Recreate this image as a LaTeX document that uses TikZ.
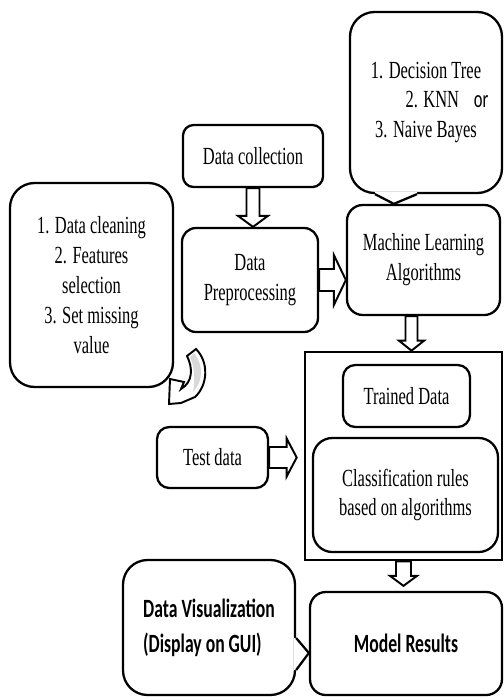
\documentclass[tikz,border=0pt]{standalone}
\usepackage{fontspec}
\setmainfont{Liberation Serif}[FakeStretch=0.67]
\newfontfamily\calfont{Carlito}[FakeStretch=0.67]
\usetikzlibrary{calc}

\tikzset{
  box/.style={draw, line width=1.3pt, rounded corners=#1, align=center,
    inner sep=2pt, font=\fontsize{14}{17}\selectfont},
  box/.default=7pt,
  boxsize/.style 2 args={minimum width=#1*0.02cm, minimum height=#2*0.02cm},
  guibox/.style={box=#1, font=\calfont\bfseries\fontsize{15}{20}\selectfont},
  fatarrow/.style={draw, line width=1.1pt, fill=white, line join=miter},
  pointer/.style={draw, line width=1.3pt, line join=miter}
}

% hollow block arrows (sizes in px: shaft half width, head half width, head length)
\newcommand{\fatdown}[5]{%
  \draw[fatarrow] let \p1=(#1), \p2=(#2) in
    (\x1-#3*0.02cm,\y1) -- (\x1-#3*0.02cm,\y2+#5*0.02cm) -- (\x1-#4*0.02cm,\y2+#5*0.02cm)
    -- (\x1,\y2) -- (\x1+#4*0.02cm,\y2+#5*0.02cm) -- (\x1+#3*0.02cm,\y2+#5*0.02cm)
    -- (\x1+#3*0.02cm,\y1) -- cycle;}
\newcommand{\fatright}[5]{%
  \draw[fatarrow] let \p1=(#1), \p2=(#2) in
    (\x1,\y1+#3*0.02cm) -- (\x2-#5*0.02cm,\y1+#3*0.02cm) -- (\x2-#5*0.02cm,\y1+#4*0.02cm)
    -- (\x2,\y1) -- (\x2-#5*0.02cm,\y1-#4*0.02cm) -- (\x2-#5*0.02cm,\y1-#3*0.02cm)
    -- (\x1,\y1-#3*0.02cm) -- cycle;}

\begin{document}
\begin{tikzpicture}[x=0.02cm, y=-0.02cm]
  \useasboundingbox (0,0) rectangle (504,697);

  % Boxes of the left part
  \node[box=14pt, boxsize={163}{204}] (clean) at (91.5,285)
    {1. Data cleaning\\2. Features\\selection\\3. Set missing\\value};
  \node[box=6pt, boxsize={140}{62}] (collect) at (253,156) {Data collection};
  \node[box=8pt, boxsize={136}{104}] (prep) at (250,280) {Data\\Preprocessing};
  \node[box, boxsize={111}{61}] (test) at (212.5,457.5) {Test data};

  % Algorithms with their callout
  \node[box=9pt, boxsize={153}{110}] (ml) at (423.5,260) {Machine Learning\\Algorithms};
  \node[box=14pt, boxsize={152}{181}] (algo) at (426,102.5)
    {1. Decision Tree\\\hspace*{1.7em}2. KNN\hspace{0.6em}{\calfont or}\\3. Naive Bayes};
  \coordinate (algotip) at ($(ml.north west)+(48,0)$);
  \fill[white] ($(algo.south)+(-51,-2)$) -- ($(algo.south)+(-51,0)$) -- (algotip)
    -- ($(algo.south)+(-9,0)$) -- ($(algo.south)+(-9,-2)$) -- cycle;
  \draw[pointer] ($(algo.south)+(-51,0)$) -- (algotip) -- ($(algo.south)+(-9,0)$);

  % Frame with the trained model
  \node[draw, line width=1.5pt, boxsize={197}{208}] (frame) at (403.5,456) {};
  \node[box, boxsize={127}{62}] (trained) at (406.5,396) {Trained Data};
  \node[box=11pt, boxsize={185}{114}] (rules) at (405.5,495)
    {Classification rules\\based on algorithms};

  % Results with their callout
  \node[guibox=9pt, boxsize={192}{103}] (result) at (406,643.5) {Model Results};
  \node[guibox=14pt, boxsize={172}{135}, align=left] (gui) at (209,627.5)
    {Data Visualization\\(Display on GUI)};
  \coordinate (guitip) at ($(result.west)+(0,9.5)$);
  \fill[white] ($(gui.east)+(-2,10.5)$) -- ($(gui.east)+(0,10.5)$) -- (guitip)
    -- ($(gui.east)+(0,42.5)$) -- ($(gui.east)+(-2,42.5)$) -- cycle;
  \draw[pointer] ($(gui.east)+(0,10.5)$) -- (guitip) -- ($(gui.east)+(0,42.5)$);

  % Block arrows
  \fatdown{collect.south}{prep.north}{6.5}{15}{11}
  \fatright{prep.east}{prep.east -| ml.west}{11}{25}{12}
  \coordinate (mlout) at ($(ml.south)+(-12,0)$);
  \fatdown{mlout}{mlout |- frame.north}{6}{12.5}{10}
  \coordinate (testin) at ($(frame.west)+(-7,0)$);
  \fatright{test.east}{test.east -| testin}{10.5}{19}{10}
  \coordinate (resin) at ($(result.north)+(0,-5)$);
  \fatdown{frame.south}{frame.south |- resin}{7.5}{13.5}{10}

  % Curved arrow back to the cleaning steps
  \draw[fatarrow] (196,349) .. controls (209,362) and (208,385) .. (195,397)
    -- (181,403) -- (169,404) -- (170,379) -- (184,382) -- (181,389)
    .. controls (193,382) and (193,368) .. (187,356) -- cycle;
  \fill[gray!30] (194,353) .. controls (204,365) and (203,382) .. (193,392)
    .. controls (195,380) and (195,368) .. (190,357) -- cycle;
\end{tikzpicture}
\end{document}
